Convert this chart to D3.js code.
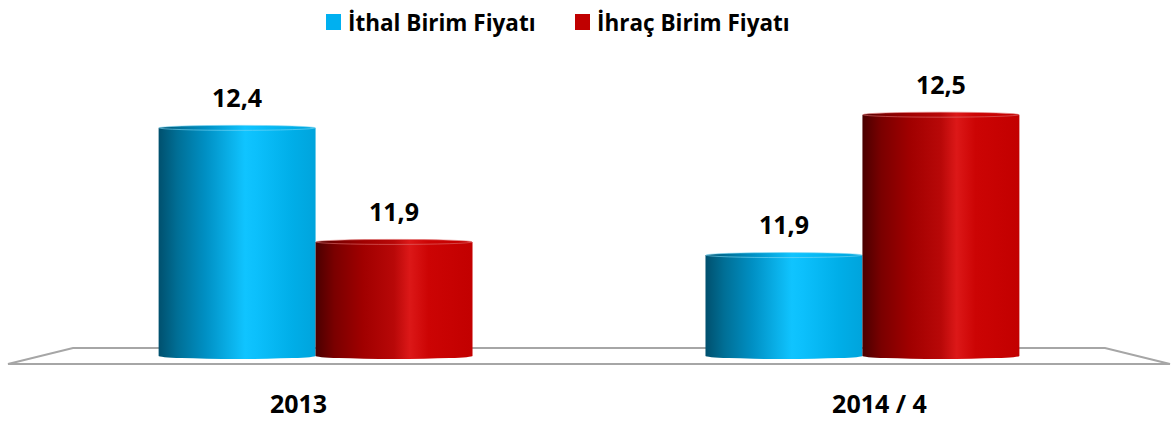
<!DOCTYPE html>
<html>
<head>
<meta charset="utf-8">
<script src="https://cdn.jsdelivr.net/npm/d3@7"></script>
<style>
  body { margin: 0; background: #fff; }
  text { font-family: "Open Sans", "Noto Sans", sans-serif; font-weight: bold; fill: #000; }
</style>
</head>
<body>
<svg id="chart" width="1173" height="426"></svg>
<script>
/* data */
var categories = ["2013", "2014 / 4"]
var seriesNames = ["İthal Birim Fiyatı", "İhraç Birim Fiyatı"]
var ithalValues = [12.44, 11.86]
var ihracValues = [11.92, 12.50]

/* layout */
var width = 1173
var floor_back_y = 348
var floor_front_y = 364
var floor_back = [73, 1105]
var floor_front = [8, 1170]
var base_y = 356
var cyl_ry = 3

var svg = d3.select("#chart")
var defs = svg.append("defs")

var trLocale = d3.formatLocale({decimal: ",", thousands: ".", grouping: [3], currency: ["", "₺"]})
var fmt = trLocale.format(".1f")

/* scales */
var x0 = d3.scaleBand()
    .domain(categories)
    .range([(floor_back[0] + floor_front[0]) / 2, (floor_back[1] + floor_front[1]) / 2])
    .paddingInner(0.426)
    .paddingOuter(0.216)

var x1 = d3.scaleBand()
    .domain(seriesNames)
    .range([0, x0.bandwidth()])

var xFront = d3.scaleBand()
    .domain(categories)
    .range(floor_front)

var y = d3.scaleLinear()
    .domain([11.4, 13.0])
    .range([base_y, 5])

var color = d3.scaleOrdinal()
    .domain(seriesNames)
    .range(["#00b0f0", "#c00000"])

/* gradients for the cylinders */
var gradStops = {
    "g0": [[0, "#00506e"], [0.12, "#006f96"], [0.3, "#0090c4"], [0.55, "#10c4ff"], [0.62, "#0cc0fc"], [0.85, "#00aee8"], [1, "#00a4dc"]],
    "g1": [[0, "#4a0000"], [0.12, "#7a0000"], [0.3, "#a00000"], [0.5, "#b80808"], [0.6, "#dc1818"], [0.72, "#cc0404"], [1, "#c20000"]]
}
Object.keys(gradStops).forEach(function(id) {
    var g = defs.append("linearGradient").attr("id", id)
        .attr("x1", "0%").attr("x2", "100%").attr("y1", "0%").attr("y2", "0%")
    gradStops[id].forEach(function(s) {
        g.append("stop").attr("offset", s[0]).attr("stop-color", s[1])
    })
})
var topStroke = ["#7fd8f5", "#e07070"]

/* floor */
svg.append("path")
    .attr("d", "M" + floor_front[0] + "," + floor_front_y +
               "L" + floor_back[0] + "," + floor_back_y +
               "L" + floor_back[1] + "," + floor_back_y +
               "L" + floor_front[1] + "," + floor_front_y + "Z")
    .attr("fill", "#fff")
    .attr("stroke", "#a6a6a6")
    .attr("stroke-width", 2)

/* bars */
var rows = categories.map(function(c, i) {
    return {cat: c, values: [
        {name: seriesNames[0], s: 0, v: ithalValues[i]},
        {name: seriesNames[1], s: 1, v: ihracValues[i]}
    ]}
})

var groups = svg.selectAll(".grp")
    .data(rows)
    .enter()
    .append("g")
    .attr("class", "grp")
    .attr("transform", function(d) { return "translate(" + x0(d.cat) + ",0)" })

var bars = groups.selectAll(".cyl")
    .data(function(d) { return d.values })
    .enter()
    .append("g")
    .attr("class", "cyl")

function cylPath(d) {
    var xl = x1(d.name), w = x1.bandwidth(), top = y(d.v)
    return "M" + xl + "," + top + "L" + xl + "," + base_y +
        "A" + (w / 2) + "," + cyl_ry + " 0 0 0 " + (xl + w) + "," + base_y +
        "L" + (xl + w) + "," + top + "Z"
}

bars.append("path")
    .attr("d", cylPath)
    .attr("fill", function(d) { return "url(#g" + d.s + ")" })

/* top cap: same shading, faint light rim */
bars.append("ellipse")
    .attr("cx", function(d) { return x1(d.name) + x1.bandwidth() / 2 })
    .attr("cy", function(d) { return y(d.v) })
    .attr("rx", x1.bandwidth() / 2 - 0.5)
    .attr("ry", cyl_ry - 0.5)
    .attr("fill", function(d) { return "url(#g" + d.s + ")" })
    .attr("stroke", function(d) { return topStroke[d.s] })
    .attr("stroke-opacity", 0.6)
    .attr("stroke-width", 1)

bars.append("text")
    .attr("x", function(d) { return x1(d.name) + x1.bandwidth() / 2 })
    .attr("y", function(d) { return y(d.v) - 21 })
    .attr("text-anchor", "middle")
    .style("font-size", "25px")
    .text(function(d) { return fmt(d.v) })

/* category labels */
svg.selectAll(".cat")
    .data(categories)
    .enter()
    .append("text")
    .attr("class", "cat")
    .attr("x", function(d) { return xFront(d) + xFront.bandwidth() / 2 })
    .attr("y", 413)
    .attr("text-anchor", "middle")
    .style("font-size", "25px")
    .text(function(d) { return d })

/* legend */
var legendX = [326, 575]
var legend = svg.selectAll(".leg")
    .data(seriesNames)
    .enter()
    .append("g")
    .attr("class", "leg")
    .attr("transform", function(d, i) { return "translate(" + legendX[i] + ",0)" })

legend.append("rect")
    .attr("x", 0).attr("y", 14)
    .attr("width", 15).attr("height", 16)
    .attr("fill", function(d) { return color(d) })

legend.append("text")
    .attr("x", 22)
    .attr("y", 31)
    .style("font-size", "22.5px")
    .text(function(d) { return d })
</script>
</body>
</html>
